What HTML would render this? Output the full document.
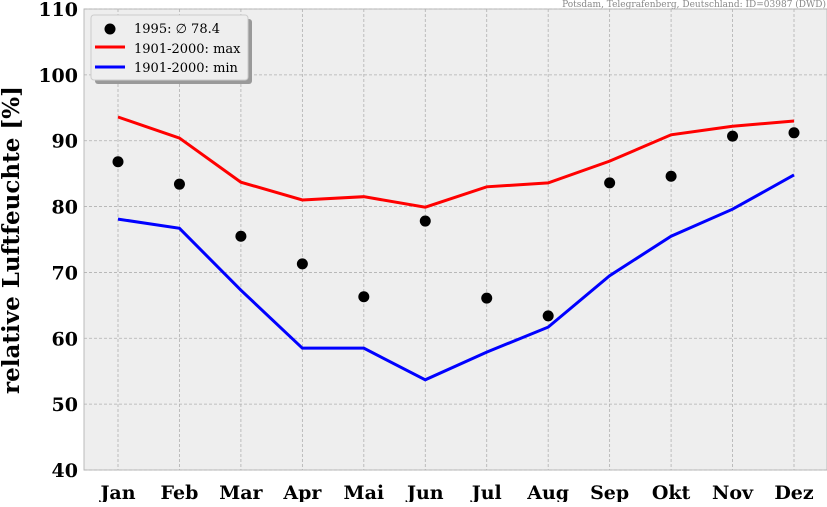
<!DOCTYPE html>
<html><head><meta charset="utf-8"><style>
body{margin:0;background:#fff;}
svg text{font-family:"DejaVu Serif","Liberation Serif",serif;}
</style></head><body>
<svg width="827" height="502" xmlns="http://www.w3.org/2000/svg">
<g id="root"></g>
</svg>
<script>
const months=["Jan","Feb","Mar","Apr","Mai","Jun","Jul","Aug","Sep","Okt","Nov","Dez"];
const values1995=[86.8,83.4,75.5,71.3,66.3,77.8,66.1,63.4,83.6,84.6,90.7,91.2];
const maxValues=[93.6,90.4,83.7,81.0,81.5,79.9,83.0,83.6,86.9,90.9,92.2,93.0];
const minValues=[78.1,76.7,67.3,58.5,58.5,53.7,57.9,61.7,69.5,75.5,79.6,84.8];
const yTicks=[40,50,60,70,80,90,100,110];
const NS="http://www.w3.org/2000/svg";
const root=document.getElementById('root');
const L=84,R=827,T=9,B=470;
const x=i=>118+i*(794-118)/11;
const y=v=>B-(v-40)*(B-T)/70;
function mk(tag,attrs,parent){const e=document.createElementNS(NS,tag);for(const k in attrs)e.setAttribute(k,attrs[k]);(parent||root).appendChild(e);return e;}
const bg=mk('rect',{x:L,y:T,width:R-L,height:B-T,fill:'#eeeeee',stroke:'#bbbbbb'});


yTicks.forEach(v=>{
  const g=mk('line',{x1:L,x2:R,y1:y(v),y2:y(v),stroke:'#b0b0b0','stroke-dasharray':'3,2','stroke-width':0.8});
  
  
  const t=mk('text',{x:L-6,y:y(v)+7,'text-anchor':'end','font-size':19,'font-weight':'bold',fill:'#000'});
  t.textContent=v;
  
  
});
months.forEach((m,i)=>{
  const g=mk('line',{x1:x(i),x2:x(i),y1:T,y2:B,stroke:'#b0b0b0','stroke-dasharray':'3,2','stroke-width':0.8});
  
  
  const t=mk('text',{x:x(i),y:499,'text-anchor':'middle','font-size':19,'font-weight':'bold'});
  t.textContent=m;
  
  
});
const lineMax=mk('polyline',{points:maxValues.map((v,i)=>x(i)+','+y(v)).join(' '),fill:'none',stroke:'#ff0000','stroke-width':3});


const lineMin=mk('polyline',{points:minValues.map((v,i)=>x(i)+','+y(v)).join(' '),fill:'none',stroke:'#0000ff','stroke-width':3});


values1995.forEach((v,i)=>{
  const c=mk('circle',{cx:x(i),cy:y(v),r:5.5,fill:'#000'});
  
  
});
const yt=mk('text',{x:0,y:0,transform:'translate(19,240) rotate(-90)','text-anchor':'middle','font-size':23,'font-weight':'bold'});
yt.textContent='relative Luftfeuchte [%]';


const src=mk('text',{x:826,y:7,'text-anchor':'end','font-size':9,fill:'#888'});
src.textContent='Potsdam, Telegrafenberg, Deutschland: ID=03987 (DWD)';


// legend
const lg=mk('g',{});


mk('rect',{x:95,y:19,width:157,height:65,rx:3,fill:'#999'},lg);
mk('rect',{x:91,y:15,width:157,height:65,rx:3,fill:'#eeeeee',stroke:'#cccccc'},lg);
mk('circle',{cx:110,cy:29,r:5.5,fill:'#000'},lg);
mk('line',{x1:95,x2:125,y1:47,y2:47,stroke:'#f00','stroke-width':3},lg);
mk('line',{x1:95,x2:125,y1:67,y2:67,stroke:'#00f','stroke-width':3},lg);
[['1995: ∅ 78.4',33],['1901-2000: max',53],['1901-2000: min',72]].forEach(([s,yy])=>{
  const t=mk('text',{x:134,y:yy,'font-size':13},lg);t.textContent=s;
  
  
});
</script>
</body></html>
